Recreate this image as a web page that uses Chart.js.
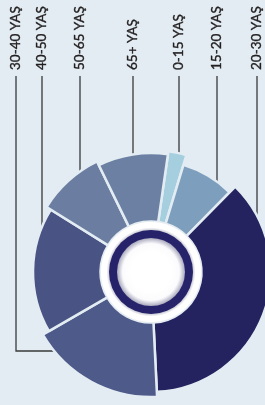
<!DOCTYPE html>
<html>
<head>
<meta charset="utf-8">
<style>
  html, body { margin: 0; padding: 0; background: #e2ecf2; }
  #wrap { width: 265px; height: 405px; overflow: hidden; position: relative; }
  #chart { position: absolute; left: 0; top: 0; }
</style>
</head>
<body>
<div id="wrap"><canvas id="chart" width="300" height="405"></canvas></div>

<script src="https://cdn.jsdelivr.net/npm/chart.js"></script>
<script>
// age groups, clockwise from the top
const labels = ['0-15 YAŞ', '15-20 YAŞ', '20-30 YAŞ', '30-40 YAŞ', '40-50 YAŞ', '50-65 YAŞ', '65+ YAŞ'];
const shares = [2.4, 7.7, 36.8, 17.4, 17.2, 8.9, 9.5];

// styling
const colors = ['#a5cfdf', '#7d9fbd', '#24235f', '#4e5a89', '#4a5484', '#6b7ea2', '#6b80a3'];
const reach = [0.976, 0.896, 0.96, 1.0, 0.944, 0.984, 0.952];   // outer radius of each slice, share of the full radius
const labelX = [179, 217, 257, 16, 42, 80, 133];                  // where each leader line runs
const elbowY = { 3: 351 };                                        // leader lines that turn right to reach their slice
const bg = '#e2ecf2';

const sliceRadius = {
  id: 'sliceRadius',
  afterDatasetsUpdate(chart) {
    const meta = chart.getDatasetMeta(0);
    meta.data.forEach((arc, i) => {
      arc.outerRadius = meta.controller.outerRadius * reach[i];
    });
  }
};

const leaders = {
  id: 'leaders',
  beforeDatasetsDraw(chart) {
    const ctx = chart.ctx;
    const meta = chart.getDatasetMeta(0);
    ctx.save();
    ctx.strokeStyle = '#3a3a3a';
    ctx.lineWidth = 1.3;
    meta.data.forEach((arc, i) => {
      const x = labelX[i];
      const r = arc.outerRadius;
      ctx.beginPath();
      ctx.moveTo(x, 76);
      if (elbowY[i] !== undefined) {
        const y = elbowY[i];
        const ex = arc.x - Math.sqrt(r * r - (y - arc.y) * (y - arc.y));
        ctx.lineTo(x, y);
        ctx.lineTo(ex + 3, y);
      } else {
        const dx = x - arc.x;
        const ey = arc.y - Math.sqrt(r * r - dx * dx);
        ctx.lineTo(x, ey + 3);
      }
      ctx.stroke();
    });
    ctx.restore();
  },
  afterDraw(chart) {
    const ctx = chart.ctx;
    ctx.save();
    ctx.fillStyle = '#231f20';
    ctx.strokeStyle = '#231f20';
    ctx.lineWidth = 0.35;
    ctx.font = '13.5px Lato';
    ctx.textAlign = 'left';
    ctx.textBaseline = 'middle';
    labels.forEach((t, i) => {
      ctx.save();
      ctx.translate(labelX[i], 70);
      ctx.rotate(-Math.PI / 2);
      ctx.fillText(t, 0, 0);
      ctx.strokeText(t, 0, 0);
      ctx.restore();
    });
    ctx.restore();
  }
};

const hub = {
  id: 'hub',
  afterDatasetsDraw(chart) {
    const ctx = chart.ctx;
    const arc = chart.getDatasetMeta(0).data[0];
    const cx = arc.x, cy = arc.y;
    ctx.save();
    let g = ctx.createRadialGradient(cx, cy, 41, cx, cy, 51);
    g.addColorStop(0, '#b9b9c8');
    g.addColorStop(0.35, '#ffffff');
    g.addColorStop(0.85, '#ffffff');
    g.addColorStop(1, '#e8e8ee');
    ctx.fillStyle = g;
    ctx.beginPath();
    ctx.arc(cx, cy, 50.5, 0, Math.PI * 2);
    ctx.fill();

    ctx.fillStyle = '#26236a';
    ctx.beginPath();
    ctx.arc(cx, cy, 42, 0, Math.PI * 2);
    ctx.fill();

    g = ctx.createRadialGradient(cx, cy, 20, cx, cy, 34);
    g.addColorStop(0, '#ffffff');
    g.addColorStop(0.6, '#fbfbfd');
    g.addColorStop(1, '#a9a9bd');
    ctx.fillStyle = g;
    ctx.beginPath();
    ctx.arc(cx, cy, 34, 0, Math.PI * 2);
    ctx.fill();
    ctx.restore();
  }
};

new Chart(document.getElementById('chart'), {
  type: 'doughnut',
  data: {
    labels: labels,
    datasets: [{
      data: shares,
      backgroundColor: colors,
      borderColor: bg,
      borderWidth: 2.5,
      borderAlign: 'center'
    }]
  },
  options: {
    responsive: false,
    animation: false,
    rotation: 8.2,
    radius: 125,
    cutout: 50,
    layout: { padding: { left: 26, right: 24, top: 147, bottom: 8 } },
    plugins: {
      legend: { display: false },
      tooltip: { enabled: false }
    }
  },
  plugins: [sliceRadius, leaders, hub]
});
</script>
</body>
</html>
